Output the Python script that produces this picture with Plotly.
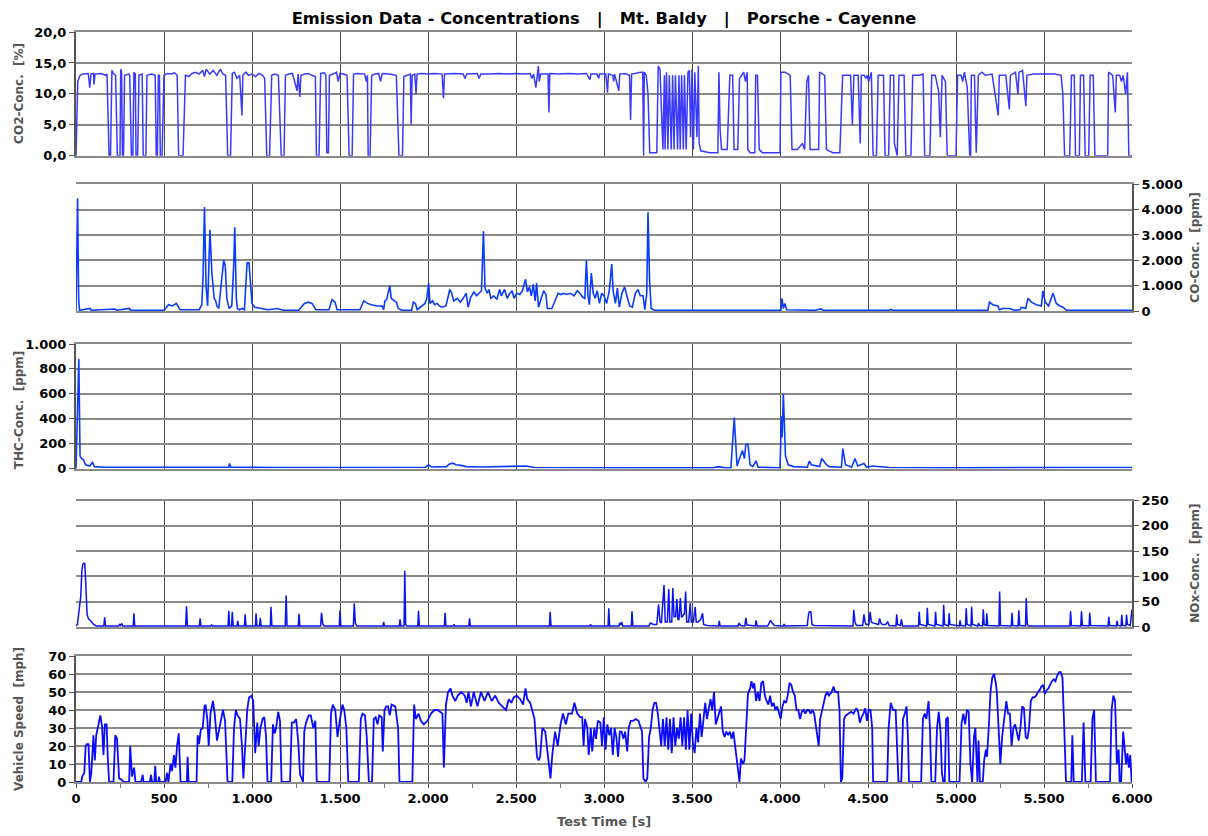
import plotly.graph_objects as go

# ---------------- data ----------------
speed_t = [0,30,35,47,55,61,71,79,87,99,107,115,128,138,148,156,164,174,180,188,213,223,233,245,263,270,302,308,318,330,338,370,379,384,420,426,432,445,450,456,468,472,477,509,517,525,537,545,557,565,574,584,594,630,634,640,685,691,699,709,720,730,736,746,754,764,778,788,801,811,821,835,847,857,861,888,898,908,918,932,943,951,963,973,983,997,1007,1018,1030,1038,1048,1060,1070,1080,1088,1109,1119,1129,1137,1149,1159,1168,1216,1226,1238,1251,1263,1273,1283,1290,1297,1307,1322,1334,1348,1360,1368,1439,1449,1459,1473,1486,1500,1514,1524,1536,1547,1607,1618,1628,1642,1652,1664,1682,1692,1703,1713,1723,1737,1743,1753,1763,1773,1783,1793,1814,1830,1838,1911,1921,1931,1946,1960,1976,1997,2017,2037,2053,2068,2082,2090,2102,2114,2128,2139,2155,2169,2189,2209,2220,2230,2244,2260,2281,2301,2321,2341,2362,2382,2402,2422,2443,2459,2473,2487,2504,2524,2540,2554,2564,2581,2595,2605,2619,2629,2637,2650,2666,2682,2696,2706,2722,2737,2753,2767,2783,2797,2818,2832,2848,2864,2876,2884,2892,2905,2913,2925,2933,2945,2955,2965,2979,2989,2999,3009,3019,3030,3040,3050,3060,3070,3080,3090,3100,3110,3120,3132,3140,3152,3166,3180,3196,3206,3216,3224,3236,3246,3256,3266,3276,3286,3296,3306,3315,3325,3335,3345,3355,3365,3375,3385,3395,3405,3415,3425,3435,3445,3455,3465,3475,3485,3495,3505,3515,3525,3535,3545,3555,3565,3575,3585,3595,3605,3615,3625,3635,3645,3655,3665,3675,3685,3695,3705,3715,3725,3735,3745,3755,3765,3770,3778,3790,3798,3808,3818,3830,3838,3846,3854,3864,3874,3884,3894,3904,3914,3924,3934,3944,3954,3964,3974,3984,3994,4004,4014,4024,4034,4044,4054,4064,4074,4084,4094,4104,4114,4124,4134,4144,4154,4164,4174,4184,4194,4204,4214,4220,4228,4238,4248,4258,4268,4278,4294,4304,4314,4330,4338,4346,4354,4364,4374,4388,4404,4418,4434,4444,4454,4464,4474,4484,4494,4504,4514,4524,4529,4609,4617,4629,4643,4657,4665,4673,4689,4699,4709,4719,4727,4733,4802,4812,4822,4832,4844,4852,4860,4882,4892,4902,4912,4920,4928,4936,4944,4954,4962,5020,5032,5042,5052,5062,5072,5082,5092,5102,5110,5116,5122,5128,5136,5152,5160,5170,5176,5186,5196,5206,5216,5226,5232,5242,5252,5262,5272,5286,5296,5306,5316,5326,5336,5346,5356,5366,5376,5386,5396,5406,5415,5425,5435,5445,5455,5465,5475,5485,5495,5505,5515,5525,5535,5545,5555,5565,5575,5585,5595,5605,5615,5625,5655,5661,5669,5715,5725,5735,5765,5775,5785,5795,5875,5884,5894,5904,5914,5924,5930,5938,5950,5958,5966,5974,5982,5990,5998]
speed_mph = [0,0,3,5,20,21,21,0,5,26,12,26,32,37,31,15,32,32,15,0,0,26,24,2,1,0,0,20,3,8,0,0,4,0,0,4,0,0,9,0,0,3,0,0,5,0,10,6,15,8,20,27,0,0,14,0,0,26,21,29,30,42,43,35,20,38,45,38,23,28,33,40,34,5,0,0,30,40,37,35,20,2,22,40,47,48,45,16,33,20,30,35,36,25,0,0,32,27,30,39,34,0,0,33,33,35,22,4,2,0,28,33,37,37,30,34,0,0,38,43,40,25,35,43,40,30,0,0,35,38,37,25,0,0,35,36,32,37,36,17,40,42,42,37,43,42,30,0,0,43,35,38,34,32,34,38,40,40,39,38,8,43,50,52,48,45,48,50,48,44,50,42,50,42,50,45,50,45,48,44,42,40,46,44,47,48,46,43,52,46,44,38,35,14,12,14,30,28,15,2,15,28,20,32,38,32,38,38,44,38,36,36,20,35,30,15,30,17,30,24,34,33,20,36,18,32,26,30,15,30,25,14,28,28,24,28,17,30,34,34,35,34,31,28,2,0,2,25,30,40,44,44,38,28,20,35,20,36,18,35,16,36,20,30,24,36,20,36,18,40,18,38,22,16,30,22,38,25,37,44,35,42,46,40,50,32,35,38,42,28,25,28,26,28,24,28,20,12,2,0,13,10,12,30,49,52,56,52,55,45,50,45,55,56,48,45,43,48,42,44,40,42,38,35,42,45,44,48,55,54,50,48,40,40,35,39,40,38,40,40,38,40,38,30,25,20,35,40,44,48,50,48,50,53,50,50,40,0,2,35,37,38,39,38,41,39,33,36,38,41,34,40,40,30,0,0,30,44,40,40,20,0,0,35,38,42,25,0,0,35,38,35,45,30,0,0,30,39,28,5,0,0,35,36,0,0,33,38,32,40,39,10,0,25,30,10,0,23,0,0,12,18,14,30,50,58,60,55,50,30,10,25,35,45,38,38,20,30,32,28,23,30,42,41,25,24,30,45,47,47,48,50,51,53,54,49,51,52,54,56,57,56,59,61,61,58,30,0,0,26,0,0,33,0,0,35,40,0,0,40,48,45,10,18,0,0,28,18,10,16,8,15,0]

co2_t = [0,10,23,40,70,78,85,100,102,108,140,170,176,188,196,204,212,225,235,250,254,259,264,270,276,300,305,315,323,329,337,341,350,358,376,382,397,403,430,450,456,462,468,474,479,489,500,520,540,560,575,583,608,622,640,660,680,700,720,730,740,760,780,800,820,835,850,862,878,888,900,915,930,943,948,965,980,1000,1020,1040,1060,1072,1084,1100,1112,1130,1150,1166,1182,1190,1210,1230,1256,1262,1272,1278,1300,1320,1340,1360,1366,1381,1390,1410,1420,1425,1434,1440,1460,1480,1490,1500,1520,1540,1552,1569,1577,1600,1640,1650,1656,1660,1671,1680,1700,1720,1730,1740,1780,1820,1835,1855,1863,1880,1900,1904,1910,1925,1932,1938,1960,2000,2040,2080,2088,2094,2150,2200,2210,2220,2280,2290,2300,2350,2400,2450,2500,2550,2580,2590,2600,2613,2620,2627,2632,2640,2682,2687,2692,2750,2800,2850,2900,2920,2925,2960,2970,2975,3010,3020,3025,3050,3055,3060,3084,3090,3120,3145,3151,3157,3210,3220,3225,3229,3240,3250,3260,3300,3308,3318,3327,3335,3343,3347,3355,3363,3371,3382,3390,3398,3406,3418,3426,3433,3441,3451,3457,3467,3477,3485,3492,3500,3508,3516,3528,3536,3541,3550,3600,3647,3653,3660,3668,3700,3715,3731,3739,3760,3770,3784,3794,3804,3814,3817,3830,3857,3862,3872,3882,3900,4000,4005,4029,4058,4068,4100,4127,4140,4152,4162,4171,4220,4225,4254,4264,4300,4340,4356,4381,4401,4411,4420,4444,4456,4462,4478,4488,4496,4504,4519,4529,4548,4558,4588,4597,4617,4627,4646,4650,4666,4676,4705,4715,4744,4754,4793,4813,4822,4852,4862,4882,4901,4911,4921,4940,4950,5000,5009,5029,5038,5048,5064,5078,5083,5087,5105,5115,5127,5147,5167,5205,5240,5246,5283,5303,5309,5338,5352,5358,5378,5397,5403,5440,5480,5519,5560,5597,5607,5617,5646,5656,5672,5679,5701,5707,5725,5734,5754,5762,5780,5789,5862,5867,5890,5905,5911,5930,5940,5950,5964,5974,5982,6000]
co2_pct = [0,12,13,13.2,13.3,11,13.2,13.3,11.5,13.2,13.3,13,13.2,0,0,13.8,13.3,13,0,0,14,13.5,0,0,13,13.2,13,0,0,13.5,13.2,0,0,13,13.2,0,0,13,13.2,13,0,0,13,13,0,0,13,13.3,13.2,13.4,13,0,0,13,12.8,13.3,13.5,13.2,13.8,12.8,14,13.2,13.8,13,14,13.2,13,0,0,13.3,13.5,12.5,13,6.5,13,13.5,13,13.2,12.8,13.3,13,12.5,0,0,13,13.2,13,0,0,13,13.2,13.3,10.5,13.2,9.5,13,13.2,13.3,13,12.8,0,0,13.3,13.4,13,0.5,0.5,13,13.2,13.5,12,13.3,13.2,13,0,0,13.2,13.3,13.2,12,13,0,0,13,13.2,13.3,12,13.3,13.2,13,0,0,12.8,13,13.2,5,13,13.2,10,13.2,13.3,13.2,13.3,13.2,9.3,13.2,13.3,13.2,12.5,13.2,13.3,12.5,13.2,13.2,13.3,13.2,13.3,13.2,13.3,12.5,13.2,11,13,14.5,12,13.2,13.2,7,13.3,13.2,13.3,13.2,13.3,12.3,13.2,13.2,12.5,13.2,13.2,10.2,13.2,13,12,13.2,10.5,13.2,13.3,13,5.8,13.2,13.5,13.5,0,13.5,13,10,0.5,0.5,14.5,14,7,1,13,1,13.5,1,13,1,13,1,13,1,13,1,13,1,13,1,13.5,13.8,3,14,1,13.5,3,14.5,2,0.8,0.5,0.5,13.5,4,1,1,13,13,1,1,12.5,13,13.5,12,13.5,1,0.5,0.5,13,13,1,0.5,0.5,13.5,13.5,13,1,1,2,1,12,13,1,1,13.5,13,1,0.5,0.5,13,13,13,5,13,13,2,13,13,12.5,13,12,13.5,0,0,13,13,0,0,13,13,2,0,13,13,0,0,13,13,13.2,0,0,13,13,10.5,3,13,12,0,0,13,13,12,13.5,11,0,0,13,13,0.5,13,13.5,13,13.2,6.5,13,13,7.5,13,13.5,10,13.5,13.8,8,13,13.2,13.2,13.2,13.2,13,10,0,0,13,13,0,0,13,13,0,0,13,13,0,0,13.5,13,7,13,13,12,13,10,13.5,0,0]

co_t = [0,9,15,20,80,86,222,230,304,310,500,526,548,570,591,700,715,722,730,739,748,761,772,785,794,800,811,839,848,857,870,885,896,902,911,917,928,944,957,966,972,983,992,1000,1015,1048,1092,1146,1178,1265,1298,1320,1341,1363,1437,1455,1472,1483,1526,1613,1635,1657,1678,1711,1739,1748,1755,1765,1783,1791,1809,1820,1831,1852,1907,1917,1928,1939,1983,1993,2004,2011,2026,2037,2052,2065,2080,2102,2124,2135,2146,2167,2183,2200,2217,2228,2243,2261,2276,2291,2304,2315,2324,2337,2346,2357,2374,2391,2407,2417,2435,2450,2461,2478,2489,2504,2522,2537,2554,2565,2576,2587,2598,2609,2617,2628,2646,2657,2670,2678,2704,2722,2739,2754,2770,2787,2809,2830,2848,2863,2878,2891,2900,2909,2917,2928,2939,2950,2961,2974,2987,3000,3015,3030,3044,3052,3065,3076,3087,3102,3117,3130,3146,3161,3178,3193,3206,3222,3232,3243,3250,3259,3268,3287,4005,4011,4019,4027,4038,4200,4233,4245,4620,4631,4640,5181,5190,5209,5238,5247,5266,5304,5332,5365,5371,5396,5409,5428,5456,5485,5494,5507,5526,5551,5570,5589,5608,5627,5890,5893,5900,6000]
co_ppm = [0,4450,500,30,100,30,80,30,100,30,30,250,200,300,50,50,250,1400,4100,1000,200,3200,1500,500,400,200,100,2000,1800,500,100,200,1800,3300,500,100,50,100,50,1000,1900,1900,800,300,150,100,50,100,30,30,300,350,300,50,50,450,350,50,50,50,400,300,250,200,200,50,400,450,1000,500,400,350,100,30,30,350,300,50,300,500,1100,300,400,250,300,200,150,200,850,700,400,500,350,500,700,150,550,750,600,700,800,3150,900,700,850,500,600,450,850,600,850,500,650,800,500,700,650,800,1250,750,950,600,1050,400,1100,150,600,800,650,100,100,450,700,650,700,650,700,600,800,700,550,500,2000,600,250,1500,700,500,800,300,700,600,300,800,1850,800,300,900,150,700,950,600,200,150,700,850,600,600,50,700,3900,1200,100,30,30,500,100,300,50,30,80,30,30,60,30,30,350,250,200,50,100,100,30,50,150,100,500,350,250,200,800,350,200,700,300,200,150,30,30,40,30,30]

thc_t = [0,12,16,23,31,43,54,78,93,105,163,357,608,620,868,872,880,1132,1380,1558,1985,2004,2020,2105,2120,2140,2160,2186,2217,2295,2488,2558,2605,2876,3263,3620,3651,3690,3721,3740,3756,3775,3787,3798,3806,3818,3830,3845,3864,3876,4000,4008,4012,4019,4031,4047,4078,4155,4167,4178,4225,4237,4248,4264,4279,4349,4357,4372,4407,4426,4442,4477,4493,4524,4620,5000,5620,6000]
thc_ppm = [0,880,880,100,80,70,30,20,50,15,10,10,12,8,10,40,10,8,10,10,10,30,12,15,35,43,30,25,15,12,15,20,8,5,5,5,15,5,5,410,20,100,145,80,195,195,30,15,60,10,5,420,250,600,100,30,15,10,60,30,15,80,60,30,15,10,160,30,10,80,20,40,10,20,8,5,8,8]

nox_t = [0,8,20,27,33,39,45,50,55,58,63,70,78,85,93,101,115,158,163,168,243,248,254,260,266,325,329,334,623,628,633,701,705,710,766,771,776,864,868,873,884,888,893,915,919,924,957,961,966,1019,1023,1028,1043,1047,1052,1104,1108,1113,1189,1194,1199,1263,1267,1272,1390,1395,1402,1410,1496,1500,1505,1576,1581,1587,1595,1744,1748,1752,1837,1841,1846,1864,1868,1873,1880,1942,1946,1951,2093,2097,2102,2143,2147,2152,2232,2236,2241,2690,2694,2699,2919,2923,2928,3023,3027,3032,3085,3089,3095,3101,3106,3155,3159,3164,3255,3264,3275,3283,3300,3310,3318,3326,3341,3348,3360,3368,3374,3385,3391,3398,3407,3414,3420,3426,3434,3440,3446,3452,3457,3464,3470,3481,3490,3496,3508,3518,3524,3535,3550,3560,3566,3585,3651,3655,3660,3762,3767,3775,3800,3806,3812,3860,3864,3870,3930,3938,3946,3955,3969,4019,4023,4028,4155,4162,4167,4175,4182,4194,4415,4419,4426,4432,4438,4470,4477,4483,4489,4505,4512,4519,4527,4560,4566,4573,4581,4600,4606,4612,4620,4640,4659,4663,4668,4684,4690,4696,4787,4791,4796,4833,4837,4842,4880,4884,4889,4926,4930,4935,4957,4961,4966,5019,5023,5028,5054,5058,5063,5085,5089,5094,5124,5128,5133,5151,5155,5160,5171,5175,5180,5244,5248,5253,5314,5318,5323,5353,5357,5362,5395,5399,5405,5411,5647,5651,5656,5709,5713,5718,5756,5760,5765,5864,5868,5873,5911,5915,5920,5938,5942,5947,5965,5969,5974,5990,6000]
nox_ppm = [2,5,40,60,110,124,126,125,90,60,25,17,14,12,8,5,2,2,19,2,2,5,3,7,2,2,27,2,2,41,2,2,17,2,2,4,2,2,32,2,2,30,2,2,12,2,2,25,2,2,27,2,2,18,2,2,40,2,2,62,2,2,26,2,2,28,6,2,2,33,2,2,47,8,2,2,10,2,2,15,2,2,111,5,2,2,32,2,2,28,2,2,5,2,2,17,2,2,30,2,2,5,2,2,37,2,2,8,4,10,2,2,31,2,2,8,6,5,5,45,10,8,83,10,10,75,10,10,77,20,20,55,15,15,57,20,20,25,25,70,10,10,47,10,10,40,10,10,15,27,5,3,2,12,2,2,8,3,2,18,4,2,13,2,2,8,13,8,3,2,6,2,3,25,30,30,5,3,2,34,10,5,3,3,25,10,5,5,30,10,8,5,17,8,5,5,8,10,3,2,2,25,5,3,15,2,2,30,5,2,38,5,2,30,5,2,44,5,2,27,5,2,13,3,2,37,5,2,40,5,2,8,3,2,35,5,2,27,3,2,70,3,2,28,3,2,33,3,2,57,5,2,2,31,3,2,31,3,2,28,3,2,20,3,2,12,3,2,24,3,2,24,5,3,35]

x_tickvals = [0,500,1000,1500,2000,2500,3000,3500,4000,4500,5000,5500,6000]
x_ticktext = ["0","500","1.000","1.500","2.000","2.500","3.000","3.500","4.000","4.500","5.000","5.500","6.000"]
co2_tickvals = [0,5,10,15,20]
co2_ticktext = ["0,0","5,0","10,0","15,0","20,0"]
co_tickvals = [0,1000,2000,3000,4000,5000]
co_ticktext = ["0","1.000","2.000","3.000","4.000","5.000"]
thc_tickvals = [0,200,400,600,800,1000]
thc_ticktext = ["0","200","400","600","800","1.000"]
nox_tickvals = [0,50,100,150,200,250]
nox_ticktext = ["0","50","100","150","200","250"]
speed_tickvals = [0,10,20,30,40,50,60,70]
speed_ticktext = ["0","10","20","30","40","50","60","70"]

# ---------------- figure ----------------
FONT = "DejaVu Sans, Verdana, sans-serif"
tickfont = dict(family=FONT, size=13, color="black", weight="bold")
domains = [[0.835, 1.0], [0.628, 0.797], [0.418, 0.584], [0.2067, 0.3753], [0.0, 0.168]]

fig = go.Figure()
series = [
    (co2_t, co2_pct, "#3a3aff", 1.5),
    (co_t, co_ppm, "#0a3cff", 1.6),
    (thc_t, thc_ppm, "#0a3cff", 1.6),
    (nox_t, nox_ppm, "#0a14f0", 1.5),
    (speed_t, speed_mph, "#0a0aff", 1.8),
]
for i, (tx, ty, col, w) in enumerate(series):
    k = "" if i == 0 else str(i + 1)
    fig.add_trace(go.Scatter(x=tx, y=ty, mode="lines", line=dict(color=col, width=w),
                             xaxis="x" + k, yaxis="y" + k, showlegend=False, hoverinfo="skip"))

yspecs = [
    (co2_tickvals, co2_ticktext, [0, 20], "left"),
    (co_tickvals, co_ticktext, [0, 5000], "right"),
    (thc_tickvals, thc_ticktext, [0, 1000], "left"),
    (nox_tickvals, nox_ticktext, [0, 250], "right"),
    (speed_tickvals, speed_ticktext, [0, 70], "left"),
]
layout = dict(
    width=1208, height=836,
    margin=dict(l=76, r=76, t=32, b=54, autoexpand=False),
    paper_bgcolor="white", plot_bgcolor="white",
    title=dict(text="Emission Data - Concentrations\u00a0\u00a0 | \u00a0\u00a0Mt. Baldy\u00a0\u00a0 | \u00a0\u00a0Porsche - Cayenne",
               x=0.5, xanchor="center", y=1 - 18 / 836, yanchor="middle",
               font=dict(family=FONT, size=16.3, color="black", weight="bold")),
)
for i, (tv, tt, rng, side) in enumerate(yspecs):
    k = "" if i == 0 else str(i + 1)
    bottom = (i == 4)
    xa = dict(
        domain=[0, 1], anchor="y" + k, range=[0, 6000],
        tickvals=x_tickvals, ticktext=x_ticktext,
        showticklabels=bottom, ticks="outside" if bottom else "", ticklen=4,
        tickcolor="#555555", tickfont=tickfont,
        showgrid=True, gridcolor="#4a4a4a", gridwidth=1, zeroline=False,
        showline=True, mirror=True, linecolor="#8a8a8a", linewidth=1.5,
    )
    if bottom:
        xa["minor"] = dict(ticks="outside", dtick=250, tick0=0, ticklen=4, tickcolor="#777777", showgrid=False)
    if i > 0:
        xa["matches"] = "x"
    layout["xaxis" + k] = xa
    layout["yaxis" + k] = dict(
        domain=domains[i], anchor="x" + k, side=side, range=rng,
        tickvals=tv, ticktext=tt, tickfont=tickfont, ticks="outside", ticklen=5,
        tickcolor="#555555", showgrid=True, gridcolor="#8a8a8a", gridwidth=1.5,
        zeroline=False, showline=True, linecolor="#555555", linewidth=2, fixedrange=True,
    )
fig.update_layout(**layout)

# axis titles
ytitles = ["CO2-Conc.\u00a0\u00a0[%]", "CO-Conc.\u00a0\u00a0[ppm]", "THC-Conc.\u00a0\u00a0[ppm]",
           "NOx-Conc.\u00a0\u00a0[ppm]", "Vehicle Speed\u00a0\u00a0[mph]"]
yshift = [0, 0, -4, 0, 0]
for i, txt in enumerate(ytitles):
    side = yspecs[i][3]
    xp = (19 - 76) / 1056 if side == "left" else (1195 - 76) / 1056
    yc = (domains[i][0] + domains[i][1]) / 2
    fig.add_annotation(text=txt, xref="paper", yref="paper", x=xp, y=yc, textangle=-90,
                       showarrow=False, xanchor="center", yanchor="middle", yshift=yshift[i],
                       font=dict(family=FONT, size=12, color="#555555", weight="bold"))
fig.add_annotation(text="Test Time [s]", xref="paper", yref="paper", x=(604 - 76) / 1056,
                   y=(782 - 822) / 750, showarrow=False, xanchor="center", yanchor="middle",
                   font=dict(family=FONT, size=13, color="#555555", weight="bold"))

fig.write_html("out.html", config={"displayModeBar": False},
               post_script="document.body.style.margin='0px';")
